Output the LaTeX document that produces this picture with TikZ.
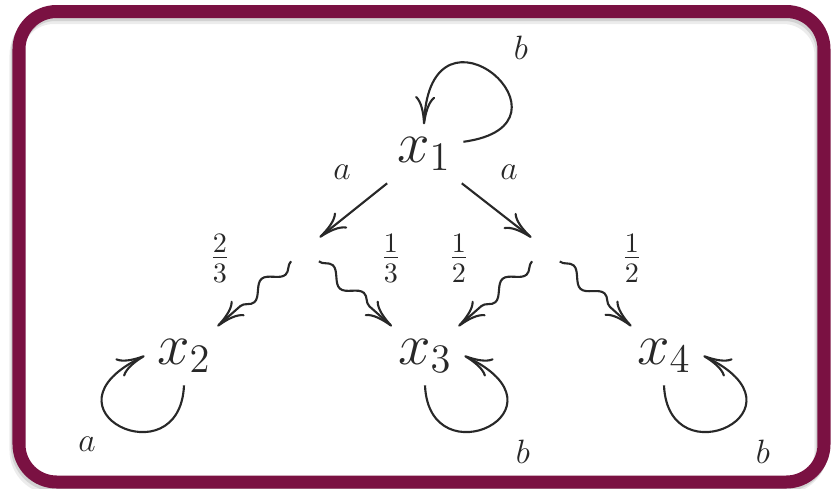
\documentclass[tikz,border=0pt]{standalone}
\usetikzlibrary{arrows.meta}
\usetikzlibrary{decorations.pathmorphing}
\definecolor{framered}{RGB}{122,17,66}
\definecolor{ink}{RGB}{40,40,40}

\begin{document}
\begin{tikzpicture}[x=0.0125cm,y=-0.0125cm,color=ink]

\tikzset{state/.style = {font=\huge, inner sep=0.15cm}}
\tikzset{split/.style = {circle, minimum size=0.45cm, inner sep=0pt}}
\tikzset{edge/.style = {->, line width=0.75pt, >={Computer Modern Rightarrow[length=3.5mm,width=2.5mm]}}}
\tikzset{wave/.style = {edge, decorate, decoration={snake, amplitude=0.08cm, segment length=0.52cm, post length=0.25cm}}}
\tikzset{lbl/.style = {font=\large}}
\tikzset{prob/.style = {font=\Large}}

\useasboundingbox (0,0) rectangle (831,489);

%frame
\draw[gray!15, line width=0.1625cm, rounded corners=0.47cm] (16,17.5) rectangle (821,488);
\draw[gray!35, line width=0.1625cm, rounded corners=0.47cm] (17.5,14.5) rectangle (822.5,485);
\draw[framered, line width=0.1625cm, rounded corners=0.47cm] (19,11.5) rectangle (824,482);

%states
\node[state, anchor=base] (x1) at (424,162) {$x_1$};
\node[state, anchor=base] (x2) at (184,364) {$x_2$};
\node[state, anchor=base] (x3) at (425,364) {$x_3$};
\node[state, anchor=base] (x4) at (664,364) {$x_4$};

%split points
\node[split] (m1) at (305,249) {};
\node[split] (m2) at (546,249) {};

%straight edges
\draw[edge] (x1) -- (m1);
\draw[edge] (x1) -- (m2);

%wavy edges
\draw[wave] (m1) -- (x2);
\draw[wave] (m1) -- (x3);
\draw[wave] (m2) -- (x3);
\draw[wave] (m2) -- (x4);

%loops
\draw[edge] (x1.17) .. controls +(126,-17) and +(6,-140) .. (x1.north);
\draw[edge] (x2.south) .. controls +(-4,95) and +(-113,54) .. (x2.west);
\draw[edge] (x3.south) .. controls +(4,95) and +(113,54) .. (x3.east);
\draw[edge] (x4.south) .. controls +(4,95) and +(113,54) .. (x4.east);

%labels
\node[lbl] (b1) at (521,48) {$b$};
\node[lbl] (a1) at (342,172) {$a$};
\node[lbl] (a2) at (509,172) {$a$};
\node[lbl] (a3) at (87,444) {$a$};
\node[lbl] (b3) at (523,452) {$b$};
\node[lbl] (b4) at (763,452) {$b$};

%probabilities
\node[prob] (p1) at (220,258) {$\frac{2}{3}$};
\node[prob] (p2) at (391,258) {$\frac{1}{3}$};
\node[prob] (p3) at (459,258) {$\frac{1}{2}$};
\node[prob] (p4) at (632,258) {$\frac{1}{2}$};

\end{tikzpicture}
\end{document}
